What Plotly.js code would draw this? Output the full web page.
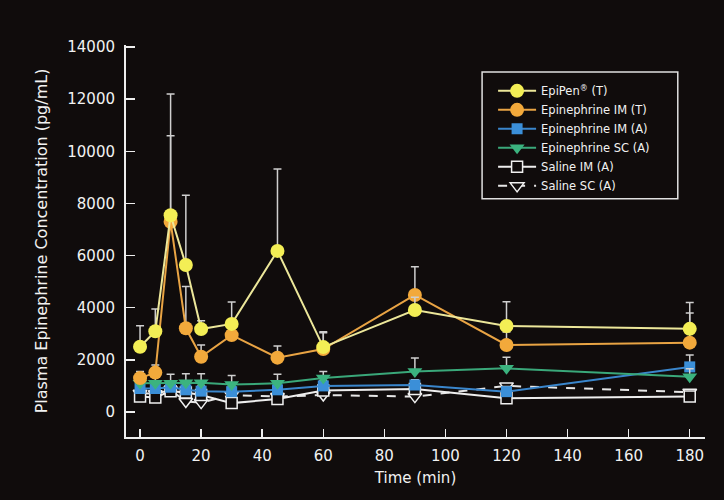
<!DOCTYPE html>
<html>
<head>
<meta charset="utf-8">
<script src="https://cdn.plot.ly/plotly-3.0.1.min.js"></script>
<style>html,body{margin:0;padding:0;background:#100c0c;}#chart{width:724px;height:500px;}</style>
</head>
<body>
<div id="chart"></div>
<script>
// Time points (min)
const time = [0, 5, 10, 15, 20, 30, 45, 60, 90, 120, 180];

// Series means (pg/mL)
const epipenT   = [2500, 3100, 7550, 5640, 3180, 3380, 6180, 2490, 3910, 3300, 3190];
const epiImT    = [1300, 1510, 7300, 3210, 2120, 2950, 2085, 2415, 4490, 2570, 2660];
const epiImA    = [900, 900, 950, 850, 800, 780, 850, 1000, 1035, 780, 1730];
const epiScA    = [1100, 1100, 1100, 1120, 1120, 1050, 1100, 1300, 1550, 1675, 1355];
const salineImA = [590, 560, 800, 750, 650, 340, 500, 820, 880, 525, 590];
const salineScA = [720, 700, 840, 400, 360, 650, 590, 650, 590, 1000, 760];

// Upper error bars (SEM, pg/mL)
const epipenTErr = [810, 850, 4650, 2680, 320, 840, 3140, 590, 490, 930, 1010];
const epiImTErr  = [250, 290, 3300, 1600, 450, 300, 445, 625, 1085, 500, 1140];
const epiImAErr  = [200, 200, 200, 200, 200, 200, 200, 200, 200, 200, 460];
const epiScAErr  = [350, 350, 350, 350, 350, 350, 350, 250, 520, 425, 300];

// Axis ticks
const xTicks = [0, 20, 40, 60, 80, 100, 120, 140, 160, 180];
const yTicks = [0, 2000, 4000, 6000, 8000, 10000, 12000, 14000];

// Labels
const names = ["EpiPen<sup>®</sup> (T)", "Epinephrine IM (T)", "Epinephrine IM (A)",
               "Epinephrine SC (A)", "Saline IM (A)", "Saline SC (A)"];

const BG = "#100c0c";
const errStyle = (arr) => ({type: "data", symmetric: false, array: arr,
  arrayminus: arr.map(() => 0), color: "#cfcfcf", thickness: 1.5, width: 4});

const traces = [
  {x: time, y: salineScA, name: names[5], legendrank: 6, mode: "lines+markers",
   line: {color: "#e6e6e6", width: 2, dash: "dash"},
   marker: {symbol: "triangle-down", size: 12, color: BG, line: {color: "#f0f0f0", width: 1.5}}},
  {x: time, y: salineImA, name: names[4], legendrank: 5, mode: "lines+markers",
   line: {color: "#eeeeee", width: 2},
   marker: {symbol: "square", size: 11, color: BG, line: {color: "#f0f0f0", width: 1.5}}},
  {x: time, y: epiImA, name: names[2], legendrank: 3, mode: "lines+markers",
   error_y: errStyle(epiImAErr),
   line: {color: "#3a86cc", width: 2},
   marker: {symbol: "square", size: 11, color: "#3b8fd8"}},
  {x: time, y: epiScA, name: names[3], legendrank: 4, mode: "lines+markers",
   error_y: errStyle(epiScAErr),
   line: {color: "#3aa87a", width: 2},
   marker: {symbol: "triangle-down", size: 13, color: "#3bb37f"}},
  {x: time, y: epiImT, name: names[1], legendrank: 2, mode: "lines+markers",
   error_y: errStyle(epiImTErr),
   line: {color: "#e9a444", width: 2},
   marker: {symbol: "circle", size: 14, color: "#f2a93b"}},
  {x: time, y: epipenT, name: names[0], legendrank: 1, mode: "lines+markers",
   error_y: errStyle(epipenTErr),
   line: {color: "#ece79a", width: 2},
   marker: {symbol: "circle", size: 14, color: "#f3ee55"}}
];

const FONT = "DejaVu Sans, Verdana, sans-serif";

const layout = {
  width: 724, height: 500,
  paper_bgcolor: BG, plot_bgcolor: BG,
  margin: {l: 126, r: 19, t: 45, b: 63},
  font: {family: FONT, color: "#f2f2f2"},
  showlegend: true,
  legend: {x: 0.634, y: 0.92, xanchor: "left", yanchor: "top",
    bgcolor: "rgba(0,0,0,0)", borderwidth: 0, itemwidth: 38,
    font: {family: FONT, size: 11.5, color: "#f2f2f2"}},
  shapes: [{type: "rect", xref: "paper", yref: "paper",
    x0: 0.615, x1: 0.953, y0: 0.608, y1: 0.931,
    line: {color: "#e0e0e0", width: 1.5}}],
  xaxis: {
    range: [-4.6, 185], tickvals: xTicks, ticktext: xTicks.map(String),
    ticks: "inside", ticklen: 8, tickwidth: 1.5, tickcolor: "#eeeeee",
    showline: true, linecolor: "#eeeeee", linewidth: 2,
    showgrid: false, zeroline: false,
    tickfont: {family: FONT, size: 15, color: "#f2f2f2"},
    ticklabelstandoff: 4,
    title: {text: "Time (min)", font: {family: FONT, size: 15, color: "#f2f2f2"}, standoff: 8}
  },
  yaxis: {
    range: [-960, 14080], tickvals: yTicks, ticktext: yTicks.map(String),
    ticks: "inside", ticklen: 9, tickwidth: 1.5, tickcolor: "#eeeeee",
    showline: true, linecolor: "#eeeeee", linewidth: 2,
    showgrid: false, zeroline: false,
    tickfont: {family: FONT, size: 15, color: "#f2f2f2"},
    ticklabelstandoff: 6,
    title: {text: "Plasma Epinephrine Concentration (pg/mL)",
      font: {family: FONT, size: 16, color: "#f2f2f2"}, standoff: 16}
  }
};

Plotly.newPlot("chart", traces, layout, {displayModeBar: false, staticPlot: true});
</script>
</body>
</html>
